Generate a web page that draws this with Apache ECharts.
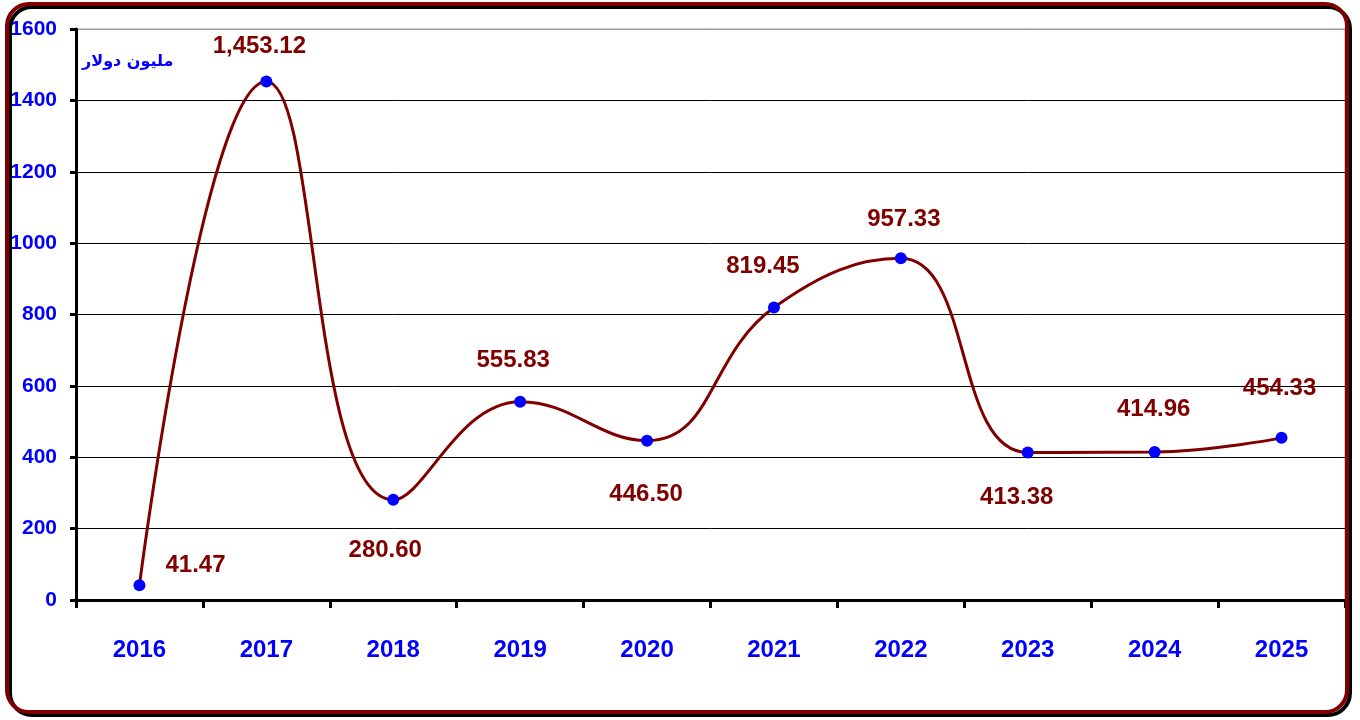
<!DOCTYPE html>
<html><head><meta charset="utf-8">
<script src="https://cdn.jsdelivr.net/npm/echarts@6/dist/echarts.min.js"></script>
<style>html,body{margin:0;padding:0;background:#fff}#c{width:1360px;height:720px}</style>
</head><body><div id="c"></div>
<script>
const categories = ['2016','2017','2018','2019','2020','2021','2022','2023','2024','2025'];
const values = [41.47, 1453.12, 280.60, 555.83, 446.50, 819.45, 957.33, 413.38, 414.96, 454.33];
const labelTexts = ['41.47','1,453.12','280.60','555.83','446.50','819.45','957.33','413.38','414.96','454.33'];
const unitText = 'مليون دولار';

const labelPlacement = [
  {position:'right', offset:[15,-20]},
  {position:'top', offset:[-7,-12]},
  {position:'bottom', offset:[-8,28]},
  {position:'top', offset:[-7,-18]},
  {position:'bottom', offset:[-1,31]},
  {position:'top', offset:[-11,-18]},
  {position:'top', offset:[3,-16]},
  {position:'bottom', offset:[-11,22]},
  {position:'top', offset:[-1,-20]},
  {position:'top', offset:[-2,-26]}
];
const fam = '"Liberation Sans",Arial,sans-serif';
const chart = echarts.init(document.getElementById('c'));
chart.setOption({
  animation:false,
  grid:{left:76, top:29, right:15, bottom:120, show:true, borderColor:'#999', borderWidth:1, outerBoundsMode:'none', containLabel:false},
  xAxis:{type:'category', data:categories, boundaryGap:true,
    axisLine:{lineStyle:{color:'#000', width:3}},
    axisTick:{show:true, alignWithLabel:false, length:8, lineStyle:{color:'#000', width:3}},
    axisLabel:{color:'#0000ff', fontWeight:'bold', fontSize:24, fontFamily:fam, margin:38}
  },
  yAxis:{type:'value', min:0, max:1600, interval:200,
    axisLine:{show:true, lineStyle:{color:'#000', width:3}},
    axisTick:{show:true, length:6, lineStyle:{color:'#000', width:3}},
    axisLabel:{color:'#0000ff', fontWeight:'bold', fontSize:21, fontFamily:fam, margin:19, formatter:v=>String(v)},
    splitLine:{show:true, lineStyle:{color:['#000','#000','#000','#000','#000','#000','#000','#000','#999'], width:1}}
  },
  series:[{
    type:'line', smooth:0.45, data:values.map((v,i)=>({value:v,
      label:{show:true, position:labelPlacement[i].position, offset:labelPlacement[i].offset, formatter:labelTexts[i]}})),
    symbol:'circle', symbolSize:12,
    itemStyle:{color:'#0000ff'},
    lineStyle:{color:'#800000', width:3},
    label:{color:'#800000', fontWeight:'bold', fontSize:24, fontFamily:fam},
    z:3
  }],
  graphic:[
    {type:'rect', shape:{x:7, y:4, width:1340, height:708, r:22}, z:100,
     style:{fill:'none', stroke:'#800000', lineWidth:4, shadowColor:'#000', shadowOffsetX:3, shadowOffsetY:3, shadowBlur:0}},
    {type:'text', left:82, top:54, z:100,
     style:{text:unitText, fill:'#0000ff', font:'bold 16px "DejaVu Sans", sans-serif'}}
  ]
});
</script></body></html>
